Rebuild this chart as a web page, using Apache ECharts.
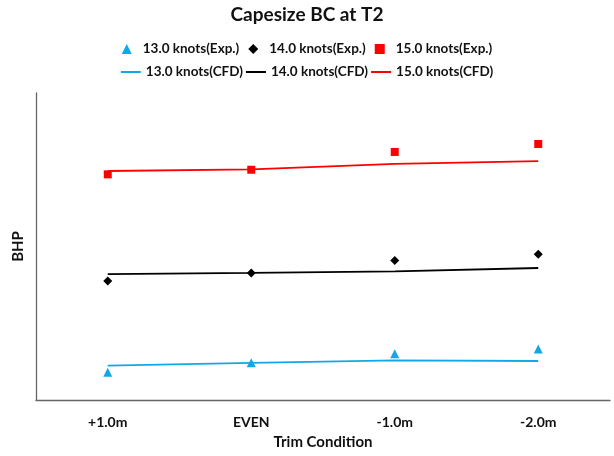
<!DOCTYPE html>
<html><head><meta charset="utf-8">
<script src="https://cdn.jsdelivr.net/npm/echarts@6/dist/echarts.min.js"></script>
<style>html,body{margin:0;padding:0;background:#fff}#c{width:614px;height:456px}</style>
</head><body><div id="c"></div>
<script>
const categories = ['+1.0m', 'EVEN', '-1.0m', '-2.0m'];
const exp13 = [9.0, 12.1, 15.1, 16.6];
const exp14 = [38.8, 41.4, 45.4, 47.5];
const exp15 = [73.5, 75.0, 80.8, 83.4];
const cfd13 = [11.2, 12.1, 12.9, 12.7];
const cfd14 = [41.0, 41.4, 41.9, 43.0];
const cfd15 = [74.6, 75.1, 76.9, 77.8];
const names = ['13.0 knots(Exp.)', '14.0 knots(Exp.)', '15.0 knots(Exp.)', '13.0 knots(CFD)', '14.0 knots(CFD)', '15.0 knots(CFD)'];
const BLUE = '#12A8E6', BLACK = '#000000', RED = '#FF0000';
const FONT = 'Lato';
const TXT = '#111';
const chart = echarts.init(document.getElementById('c'));
chart.setOption({
  animation: false,
  title: { text: 'Capesize BC at T2', left: 'center', top: 0,
    textStyle: { fontFamily: FONT, fontWeight: 'bold', fontSize: 19, color: TXT } },
  legend: [
    { data: [{ name: names[0], icon: 'triangle' }, { name: names[1], icon: 'diamond' }, { name: names[2], icon: 'rect' }],
      top: 37, left: 'center', itemWidth: 10, itemHeight: 10, itemGap: 9,
      textStyle: { fontFamily: FONT, fontWeight: 'bold', fontSize: 13.5, color: TXT, padding: [0, 0, 0, 6] } },
    { data: names.slice(3).map(n => ({ name: n, icon: 'rect' })),
      top: 60, left: 'center', itemWidth: 20, itemHeight: 2, itemGap: 3,
      textStyle: { fontFamily: FONT, fontWeight: 'bold', fontSize: 13.5, color: TXT } }
  ],
  grid: { left: 36, right: 4, top: 93, bottom: 56 },
  xAxis: {
    type: 'category', data: categories, boundaryGap: true,
    name: 'Trim Condition', nameLocation: 'middle', nameGap: 35,
    nameTextStyle: { fontFamily: FONT, fontWeight: 'bold', fontSize: 15, color: TXT },
    axisLine: { lineStyle: { color: '#666', width: 1.3 } },
    axisTick: { alignWithLabel: true, inside: true, length: 4, lineStyle: { color: '#666' } },
    axisLabel: { fontFamily: FONT, fontWeight: 'bold', fontSize: 14, color: TXT, margin: 15 }
  },
  yAxis: {
    type: 'value', min: 0, max: 100,
    name: 'BHP', nameLocation: 'middle', nameGap: 10,
    nameTextStyle: { fontFamily: FONT, fontWeight: 'bold', fontSize: 15, color: TXT },
    axisLine: { show: true, lineStyle: { color: '#666', width: 1.3 } },
    axisTick: { show: false }, axisLabel: { show: false }, splitLine: { show: false }
  },
  series: [
    { name: names[0], type: 'scatter', data: exp13, symbol: 'triangle', symbolSize: 9, itemStyle: { color: BLUE, opacity: 1 } },
    { name: names[1], type: 'scatter', data: exp14, symbol: 'diamond', symbolSize: 9, itemStyle: { color: BLACK, opacity: 1 } },
    { name: names[2], type: 'scatter', data: exp15, symbol: 'rect', symbolSize: 8, itemStyle: { color: RED, opacity: 1 } },
    { name: names[3], type: 'line', data: cfd13, symbol: 'none', lineStyle: { color: BLUE, width: 1.8 }, itemStyle: { color: BLUE } },
    { name: names[4], type: 'line', data: cfd14, symbol: 'none', lineStyle: { color: BLACK, width: 1.8 }, itemStyle: { color: BLACK } },
    { name: names[5], type: 'line', data: cfd15, symbol: 'none', lineStyle: { color: RED, width: 1.8 }, itemStyle: { color: RED } }
  ]
});
</script></body></html>
